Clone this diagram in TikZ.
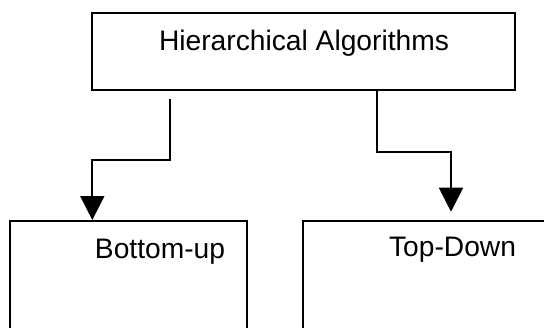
\documentclass[tikz,border=0pt]{standalone}
\usepackage{fontspec}
\setmainfont{Liberation Sans}
\usetikzlibrary{arrows.meta}

\tikzset{
  box/.style={draw, line width=0.9pt, inner sep=0pt},
  lbl/.style={anchor=base, font=\fontsize{14.1}{16}\selectfont},
  arr/.style={line width=0.9pt, -{Triangle[width=12pt,length=12pt]}}
}

\begin{document}
\begin{tikzpicture}[x=0.5pt, y=-0.5pt]
    \clip (0,0) rectangle (544,327);

    \node [box, minimum width=211.5pt, minimum height=38.8pt] (algo) at (303.5, 51.5) {};
    \node [box, minimum width=118.5pt, minimum height=90pt] (bu) at (128.5, 311) {};
    \node [box, minimum width=148.5pt, minimum height=90pt] (td) at (451.4, 311) {};

    \node [lbl] (algo-text) at (304, 50) {Hierarchical Algorithms};
    \node [lbl] (bu-text) at (160, 258) {Bottom-up};
    \node [lbl] (td-text) at (452.5, 256.7) {Top-Down};

    \coordinate (bu-start) at (170.3, 99.3);
    \coordinate (bu-in) at (92.3, 220);
    \coordinate (td-start) at (376.7, 90.3);
    \coordinate (td-in) at (451, 211.7);

    \draw [arr] (bu-start) -- ++(0, 60.7) -| (bu-in);
    \draw [arr] (td-start) -- ++(0, 61.4) -| (td-in);
  \end{tikzpicture}
\end{document}
